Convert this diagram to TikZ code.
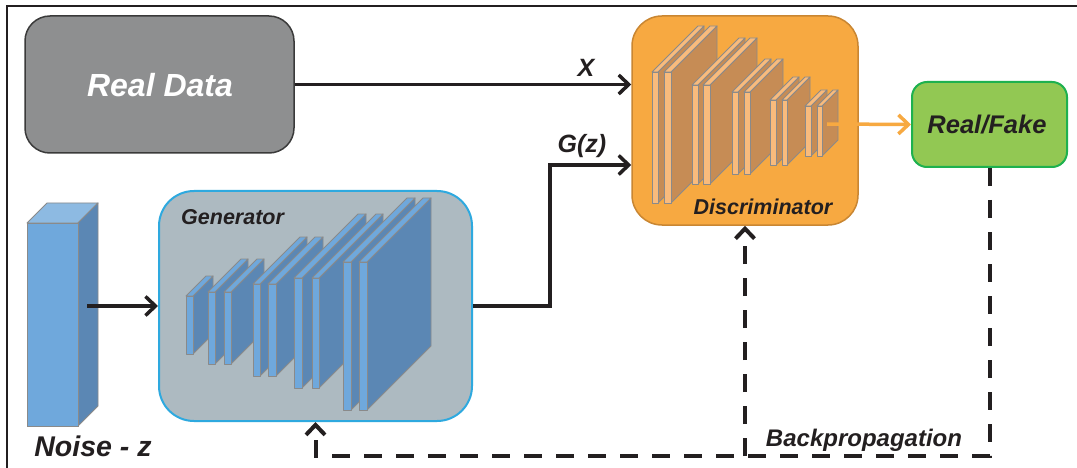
\documentclass[tikz,border=0pt]{standalone}
\usepackage{fontspec}
\setmainfont{Liberation Sans}
\usetikzlibrary{arrows.meta}

\definecolor{inkdark}{HTML}{231F20}
\definecolor{realfill}{HTML}{8E8F90}
\definecolor{realedge}{HTML}{3A3A3A}
\definecolor{discfill}{HTML}{F7A941}
\definecolor{discedge}{HTML}{C98632}
\definecolor{rffill}{HTML}{92C853}
\definecolor{rfedge}{HTML}{1EB14F}
\definecolor{genfill}{HTML}{ADBAC1}
\definecolor{genedge}{HTML}{2EA9DF}
\definecolor{bluefront}{HTML}{6FA8DC}
\definecolor{bluetop}{HTML}{8DBAE2}
\definecolor{blueside}{HTML}{5B87B4}
\definecolor{tanfront}{HTML}{F9BB7C}
\definecolor{tanside}{HTML}{C68C55}
\definecolor{slabgray}{HTML}{8A8A8A}

% one thin layer: #1 x, #2 top y, #3 bottom y, #4 width, #5 depth, #6 front, #7 side
\newcommand{\layerslab}[7]{%
  \filldraw[fill=#7,slabline] (#1+#4,#2) -- ++(#5,-#5) -- (#1+#4+#5,#3-#5) -- (#1+#4,#3) -- cycle;
  \filldraw[fill=#6,slabline] (#1,#2) -- ++(#5,-#5) -- ++(#4,0) -- (#1+#4,#2) -- cycle;
  \filldraw[fill=#6,slabline] (#1,#2) rectangle (#1+#4,#3);
}

\begin{document}
\begin{tikzpicture}[x=1pt,y=-1pt,
  slabline/.style={draw=slabgray,line width=0.9pt,line join=round},
  boxlabel/.style={font=\bfseries\itshape,text=inkdark,inner sep=0pt},
  barb/.style={-{Straight Barb[length=10pt,width=19pt]}},
  flow/.style={line width=3.5pt,draw=inkdark,barb},
  back/.style={line width=4pt,draw=inkdark,dash pattern=on 18pt off 14pt},
  backtip/.style={back,barb},
]
\useasboundingbox (0,0) rectangle (1077,468);
\fill[white] (0,0) rectangle (1077,468);

% frame
\draw[line width=1.5pt,inkdark] (7,468) -- (7,6) -- (1077,6);

% boxes
\node[draw=realedge,fill=realfill,line width=1.5pt,rounded corners=25pt,
      minimum width=269pt,minimum height=137pt,inner sep=0pt] (rd) at (159.5,84.5) {};
\node[font=\fontsize{32}{36}\selectfont\bfseries\itshape,text=white] (rdtext) at (160,85) {Real Data};

\node[draw=discedge,fill=discfill,line width=1.5pt,rounded corners=30pt,
      minimum width=226pt,minimum height=209pt,inner sep=0pt] (disc) at (745,120.5) {};

\node[draw=rfedge,fill=rffill,line width=2pt,rounded corners=15pt,
      minimum width=155pt,minimum height=85pt,inner sep=0pt] (rf) at (989.5,124.5) {};
\node[boxlabel,font=\fontsize{25.5}{30}\selectfont\bfseries\itshape] (rftext) at (987,124.5) {Real/Fake};

\node[draw=genedge,fill=genfill,line width=2pt,rounded corners=35pt,
      minimum width=313pt,minimum height=230pt,inner sep=0pt] (gen) at (315.5,306) {};

% noise vector as a tall block
\filldraw[fill=bluetop,slabline] (27,223) -- (47,203) -- (98,203) -- (78,223) -- cycle;
\filldraw[fill=blueside,slabline] (78,223) -- (98,203) -- (98,406) -- (78,426) -- cycle;
\node[draw=slabgray,fill=bluefront,line width=0.9pt,minimum width=51pt,minimum height=203pt,
      inner sep=0pt] (noise) at (52.5,324.5) {};
\node[boxlabel,font=\fontsize{28.5}{32}\selectfont\bfseries\itshape] (noisetext) at (93,446) {Noise - z};

% generator layers
\layerslab{186}{296}{354}{7}{20}{bluefront}{blueside}
\layerslab{208}{292}{364}{7}{33}{bluefront}{blueside}
\layerslab{224}{292}{364}{7}{33}{bluefront}{blueside}
\layerslab{253}{284}{376}{7}{47}{bluefront}{blueside}
\layerslab{268}{284}{376}{8}{47}{bluefront}{blueside}
\layerslab{294}{278}{388}{8}{64}{bluefront}{blueside}
\layerslab{312}{278}{388}{7}{64}{bluefront}{blueside}
\layerslab{343}{262}{410}{8}{64}{bluefront}{blueside}
\layerslab{359}{262}{410}{8}{64}{bluefront}{blueside}
\node[boxlabel,font=\fontsize{21.5}{26}\selectfont\bfseries\itshape,anchor=west] (gentext) at (181,217) {Generator};

% discriminator layers
\layerslab{652}{72}{203}{6}{46}{tanfront}{tanside}
\layerslab{664}{72}{203}{7}{46}{tanfront}{tanside}
\layerslab{692}{85}{184}{6}{47}{tanfront}{tanside}
\layerslab{703}{85}{184}{7}{47}{tanfront}{tanside}
\layerslab{732}{92}{174}{6}{33}{tanfront}{tanside}
\layerslab{744}{92}{174}{6}{33}{tanfront}{tanside}
\layerslab{770}{100}{165}{6}{23}{tanfront}{tanside}
\layerslab{782}{100}{165}{5}{23}{tanfront}{tanside}
\layerslab{805}{106}{156}{6}{16}{tanfront}{tanside}
\layerslab{817}{106}{156}{5}{16}{tanfront}{tanside}
\node[boxlabel,font=\fontsize{21.5}{26}\selectfont\bfseries\itshape] (disctext) at (763,207) {Discriminator};

% forward connections
\coordinate (nzout) at (87,306);
\draw[flow] (nzout) -- (gen.west);
\draw[flow] (rd.east) -- (disc.west |- rd.east);
\node[boxlabel,font=\fontsize{25}{30}\selectfont\bfseries\itshape] (xlabel) at (586,68) {X};
\coordinate (gzbend) at (550,165);
\draw[flow,line join=miter] (gen.east) -| (gzbend) -- (disc.west |- gzbend);
\node[boxlabel,font=\fontsize{25}{30}\selectfont\bfseries\itshape] (gzlabel) at (582,146) {G(z)};
\coordinate (dout) at (827,124);
\draw[line width=3.5pt,draw=discfill,barb] (dout) -- (rf.west);

% backpropagation paths
\coordinate (bpcorner) at (989.5,456);
\coordinate (bpjoin) at (disc.south |- bpcorner);
\draw[backtip] (rf.south) -- (bpcorner) -| (gen.south);
\draw[backtip] (bpjoin) -- (disc.south);
\node[boxlabel,font=\fontsize{24}{28}\selectfont\bfseries\itshape] (bptext) at (864,440) {Backpropagation};
\end{tikzpicture}
\end{document}
